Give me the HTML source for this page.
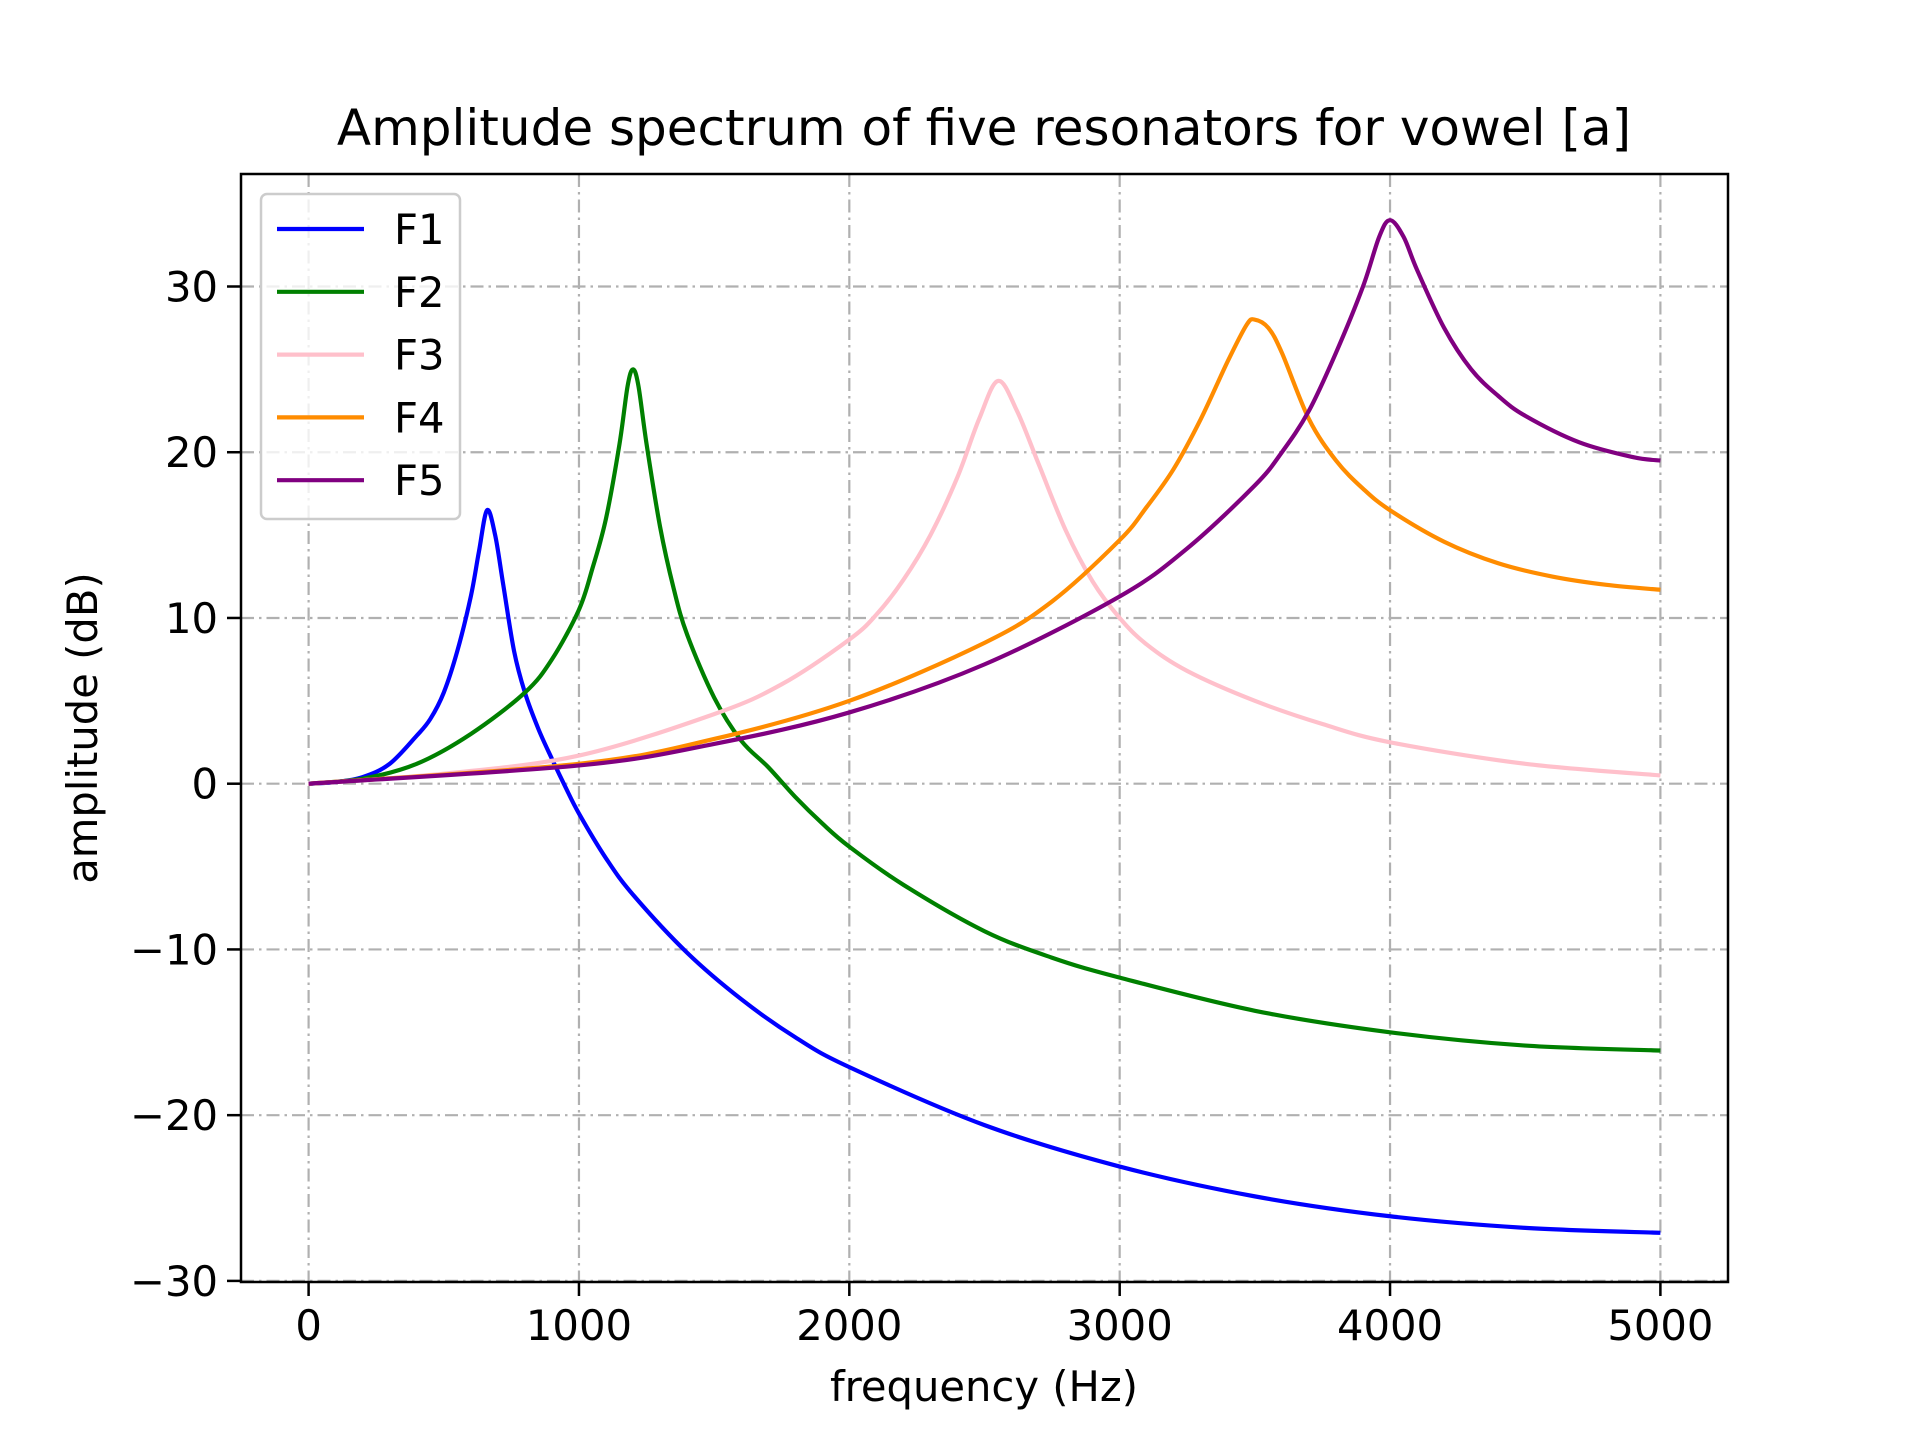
<!DOCTYPE html>
<html><head><meta charset="utf-8"><style>
html,body{margin:0;padding:0;background:#fff;}
svg{display:block;font-family:"DejaVu Sans","Liberation Sans",sans-serif;}
</style></head><body>
<svg id="chart" width="1920" height="1440" viewBox="0 0 1920 1440" xmlns="http://www.w3.org/2000/svg">
<rect width="1920" height="1440" fill="#fff"/>
<g id="grid"></g>
<g id="series"></g>
<rect x="241" y="174" width="1487" height="1108" fill="none" stroke="#000" stroke-width="2.5"/>
<g id="ticks"></g>
<text x="984" y="145" font-size="50" text-anchor="middle">Amplitude spectrum of five resonators for vowel [a]</text>
<text x="984" y="1401" font-size="41.7" text-anchor="middle">frequency (Hz)</text>
<text transform="translate(97,728) rotate(-90)" font-size="41.7" text-anchor="middle">amplitude (dB)</text>
<g id="legend">
<rect x="261" y="194" width="199" height="325" rx="6" fill="#fff" fill-opacity="0.8" stroke="#ccc" stroke-width="2.5"/>
</g>
</svg>
<script>
const xTicks=[0,1000,2000,3000,4000,5000];
const yTicks=[-30,-20,-10,0,10,20,30];
const names=["F1","F2","F3","F4","F5"];
const colors=["blue","green","pink","darkorange","purple"];
const f1x=[0,100,200,300,400,450,500,550,600,630,660,690,720,760,800,850,900,950,1000,1100,1200,1400,1600,1800,2000,2500,3000,3500,4000,4500,5000];
const f1y=[0,0.1,0.4,1.2,2.9,3.9,5.5,8,11.3,14,16.5,15,12,8,5.5,3.3,1.5,-0.2,-1.8,-4.5,-6.7,-10.2,-13,-15.3,-17.1,-20.6,-23.1,-24.9,-26.1,-26.8,-27.1];
const f2x=[0,200,400,600,800,900,1000,1050,1100,1150,1180,1200,1220,1250,1300,1350,1400,1500,1600,1700,1800,1900,2000,2200,2500,2750,3000,3500,4000,4500,5000];
const f2y=[0,0.3,1.2,3,5.5,7.5,10.5,13,16,20.5,24,25,24,20.5,15.5,11.8,9,5.2,2.6,1,-0.8,-2.4,-3.8,-6.1,-8.9,-10.5,-11.7,-13.7,-15,-15.8,-16.1];
const f3x=[0,500,1000,1500,1750,2000,2100,2200,2300,2400,2480,2550,2620,2700,2800,2900,3000,3100,3250,3500,3750,4000,4500,5000];
const f3y=[0,0.6,1.7,4.2,6,8.7,10.2,12.3,15,18.5,22,24.3,22.5,19.3,15.3,12.2,10,8.4,6.8,5,3.6,2.5,1.2,0.5];
const f4x=[0,1000,1500,2000,2500,2750,3000,3100,3200,3300,3400,3470,3500,3550,3600,3700,3800,3900,4000,4200,4400,4600,4800,5000];
const f4y=[0,1.2,2.7,5,8.5,11,14.7,16.7,19,22,25.5,27.7,28,27.5,26,22,19.5,17.8,16.5,14.6,13.3,12.5,12,11.7];
const f5x=[0,1000,1500,2000,2500,3000,3250,3500,3600,3700,3800,3900,3960,4000,4050,4100,4200,4300,4400,4500,4700,4900,5000];
const f5y=[0,1.1,2.4,4.3,7.2,11.3,14.2,18,20,22.5,26,30,33,34,33,31,27.5,25,23.4,22.2,20.6,19.7,19.5];
const seriesX=[f1x,f2x,f3x,f4x,f5x];
const seriesY=[f1y,f2y,f3y,f4y,f5y];
const NS="http://www.w3.org/2000/svg";
const X0=308.6,X1=1660.4,Y0=783.7,Y30=286.5;
const sx=v=>X0+(X1-X0)*v/5000;
const sy=v=>Y0-(Y0-Y30)*v/30;
function mk(t,a,p){const e=document.createElementNS(NS,t);for(const k in a)e.setAttribute(k,a[k]);p.appendChild(e);return e;}
const grid=document.getElementById('grid'),ticks=document.getElementById('ticks');
xTicks.forEach(v=>{
 const l=mk('line',{x1:sx(v),x2:sx(v),y1:174,y2:1282,stroke:'#b0b0b0','stroke-width':2.2,'stroke-dasharray':'13 5 2.5 5'},grid);
 
 
 const t=mk('line',{x1:sx(v),x2:sx(v),y1:1282,y2:1296,stroke:'#000','stroke-width':2.5},ticks);
 
 
 const tx=mk('text',{x:sx(v),y:1340,'font-size':41.7,'text-anchor':'middle'},ticks);
 tx.textContent=String(v);
 
 
});
yTicks.forEach(v=>{
 const l=mk('line',{x1:241,x2:1728,y1:sy(v),y2:sy(v),stroke:'#b0b0b0','stroke-width':2.2,'stroke-dasharray':'13 5 2.5 5'},grid);
 
 
 const t=mk('line',{x1:227,x2:241,y1:sy(v),y2:sy(v),stroke:'#000','stroke-width':2.5},ticks);
 
 
 const tx=mk('text',{x:218,y:sy(v)+15,'font-size':41.7,'text-anchor':'end'},ticks);
 tx.textContent=(v<0?'\u2212'+(-v):String(v));
 
 
});
function pathFor(xs,ys){
 const p=xs.map((x,i)=>[sx(x),sy(ys[i])]);
 let d='M'+p[0][0]+','+p[0][1];
 for(let i=0;i<p.length-1;i++){
  const a=p[Math.max(0,i-1)],b=p[i],c=p[i+1],e=p[Math.min(p.length-1,i+2)];
  const c1=[b[0]+(c[0]-a[0])/6,b[1]+(c[1]-a[1])/6],c2=[c[0]-(e[0]-b[0])/6,c[1]-(e[1]-b[1])/6];
  d+=' C'+c1[0]+','+c1[1]+' '+c2[0]+','+c2[1]+' '+c[0]+','+c[1];
 }
 return d;
}
const sg=document.getElementById('series'),lg=document.getElementById('legend');
names.forEach((n,i)=>{
 const p=mk('path',{d:pathFor(seriesX[i],seriesY[i]),fill:'none',stroke:colors[i],'stroke-width':4.2,'stroke-linejoin':'round'},sg);
 
 
 const y=229+i*62.8;
 const l=mk('line',{x1:277,x2:364,y1:y,y2:y,stroke:colors[i],'stroke-width':4.2},lg);
 
 
 const t=mk('text',{x:394,y:y+15,'font-size':41.7},lg);
 t.textContent=n;
 
 
});
</script>
</body></html>
